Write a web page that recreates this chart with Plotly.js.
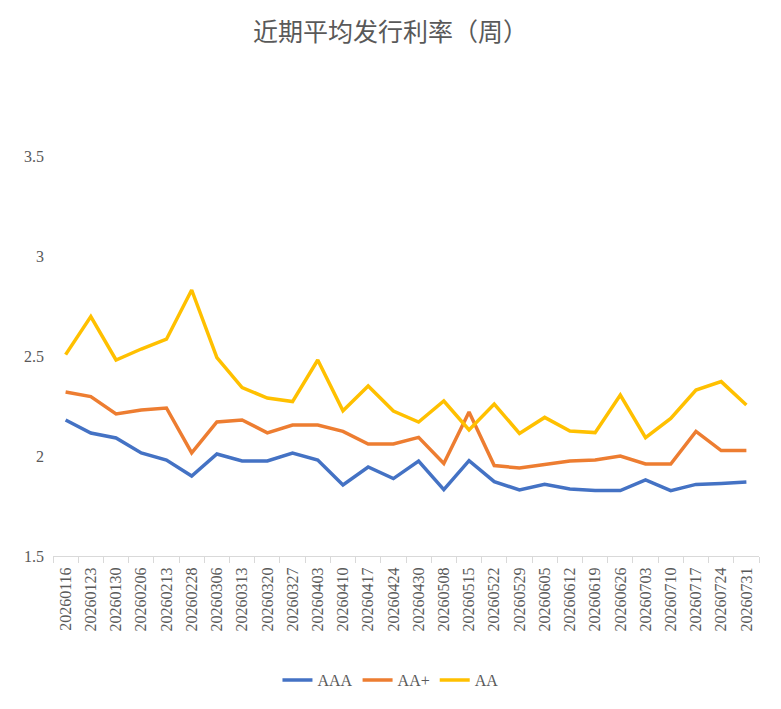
<!DOCTYPE html>
<html>
<head>
<meta charset="utf-8">
<script src="https://cdn.plot.ly/plotly-3.0.1.min.js"></script>
<style>
  html, body { margin: 0; padding: 0; background: #fff; }
  #chart { width: 781px; height: 709px; }
</style>
</head>
<body>
<div id="chart"></div>
<script>
var weeks = ['20260116', '20260123', '20260130', '20260206', '20260213', '20260228',
  '20260306', '20260313', '20260320', '20260327', '20260403', '20260410',
  '20260417', '20260424', '20260430', '20260508', '20260515', '20260522',
  '20260529', '20260605', '20260612', '20260619', '20260626', '20260703',
  '20260710', '20260717', '20260724', '20260731'];

var aaa = [2.18, 2.115, 2.09, 2.015, 1.98, 1.9, 2.01, 1.975, 1.975, 2.015, 1.98, 1.855,
  1.945, 1.887, 1.975, 1.832, 1.977, 1.872, 1.83, 1.858, 1.835, 1.827, 1.827, 1.88,
  1.827, 1.858, 1.863, 1.87];

var aaPlus = [2.32, 2.297, 2.21, 2.23, 2.24, 2.016, 2.17, 2.18, 2.116, 2.155, 2.155, 2.123,
  2.06, 2.06, 2.093, 1.963, 2.22, 1.952, 1.94, 1.957, 1.975, 1.98, 2.0, 1.96,
  1.96, 2.123, 2.027, 2.027];

var aa = [2.507, 2.697, 2.48, 2.535, 2.584, 2.83, 2.492, 2.342, 2.29, 2.272, 2.48, 2.226,
  2.35, 2.225, 2.17, 2.275, 2.13, 2.26, 2.113, 2.193, 2.125, 2.117, 2.305, 2.092,
  2.188, 2.33, 2.372, 2.255];

var textFont = 'Liberation Serif, Noto Sans CJK SC, serif';
var gray = '#595959';

function line(name, values, color) {
  return {
    x: weeks,
    y: values,
    name: name,
    type: 'scatter',
    mode: 'lines',
    line: {color: color, width: 3.5},
    hoverinfo: 'x+y+name'
  };
}

var data = [
  line('AAA', aaa, '#4472C4'),
  line('AA+', aaPlus, '#ED7D31'),
  line('AA', aa, '#FFC000')
];

var layout = {
  width: 781,
  height: 709,
  paper_bgcolor: '#fff',
  plot_bgcolor: '#fff',
  margin: {l: 53, r: 22, t: 156, b: 153},
  title: {
    text: '近期平均发行利率（周）',
    font: {family: 'Noto Sans CJK SC, sans-serif', size: 25, color: gray},
    x: 0.5,
    xanchor: 'center',
    y: 0.955,
    yanchor: 'middle'
  },
  xaxis: {
    type: 'category',
    range: [-0.5, weeks.length - 0.5],
    tickangle: -90,
    tickfont: {family: textFont, size: 16, color: gray},
    showgrid: false,
    showline: true,
    linecolor: '#d9d9d9',
    linewidth: 1,
    ticks: 'outside',
    tickson: 'boundaries',
    ticklen: 6,
    tickcolor: '#d9d9d9',
    ticklabelstandoff: 4,
    automargin: false,
    zeroline: false
  },
  yaxis: {
    range: [1.5, 3.5],
    dtick: 0.5,
    tick0: 1.5,
    showgrid: false,
    showline: false,
    zeroline: false,
    ticks: '',
    ticklabelstandoff: 8,
    tickfont: {family: textFont, size: 16, color: gray},
    automargin: false
  },
  showlegend: true,
  legend: {
    orientation: 'h',
    x: 0.478,
    xanchor: 'center',
    y: -0.31,
    yanchor: 'middle',
    font: {family: textFont, size: 16, color: gray},
    itemwidth: 30
  }
};

Plotly.newPlot('chart', data, layout, {displayModeBar: false, staticPlot: true});
</script>
</body>
</html>
